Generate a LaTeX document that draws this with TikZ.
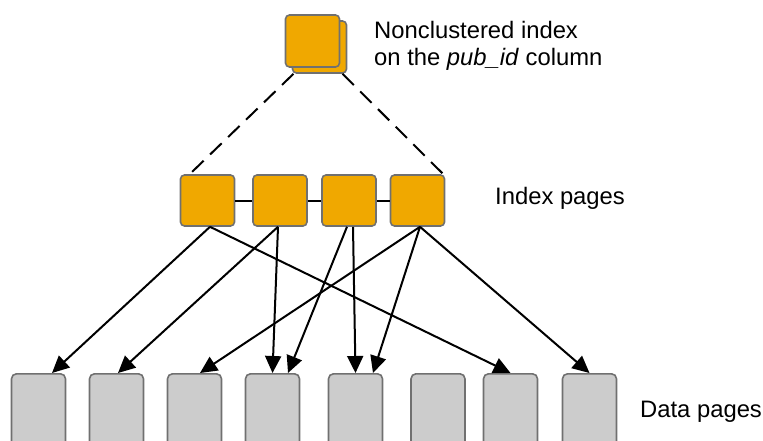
\documentclass[tikz,border=0pt]{standalone}
\usepackage{fontspec}
\setmainfont{Liberation Sans}
\usetikzlibrary{arrows.meta,calc}
\definecolor{idxfill}{RGB}{240,168,0}
\definecolor{datafill}{RGB}{204,204,204}
\definecolor{edgegray}{RGB}{112,112,112}
\begin{document}
\begin{tikzpicture}[x=1pt,y=-1pt,
  idxbox/.style={draw=edgegray,line width=1.6pt,fill=idxfill,rounded corners=4pt,minimum width=54pt,minimum height=51pt,inner sep=0pt},
  databox/.style={draw=edgegray,line width=1.6pt,fill=datafill,rounded corners=5pt,minimum width=54pt,minimum height=100pt,inner sep=0pt,anchor=north},
  link/.style={line width=2pt,black},
  ptr/.style={line width=2pt,black,-{Triangle[length=17pt,width=16pt]}},
  lbl/.style={font=\fontsize{23.8}{27}\selectfont,inner sep=0pt,anchor=west,align=left}]
\clip (0,0) rectangle (763,441);
\useasboundingbox (0,0) rectangle (763,441);
% top index symbol
\node[idxbox,minimum height=52pt] (back) at (319.5,47) {};
\node[idxbox,minimum height=52pt] (top) at (312.5,41) {};
% index pages
\node[idxbox] (i1) at (207.5,200.5) {};
\node[idxbox] (i2) at (280,200.5) {};
\node[idxbox] (i3) at (349,200.5) {};
\node[idxbox] (i4) at (417.5,200.5) {};
\draw[link] (i1.east) -- (i2.west);
\draw[link] (i2.east) -- (i3.west);
\draw[link] (i3.east) -- (i4.west);
% dashed lines
\draw[link,dash pattern=on 16pt off 9pt] ([xshift=-26pt]back.south) -- ([xshift=10pt]i1.north west);
\draw[link,dash pattern=on 16pt off 9pt] ([xshift=23pt]back.south) -- ([xshift=-2pt]i4.north east);
% data pages
\foreach \n/\x in {1/38.5,2/116.5,3/194.5,4/272.5,5/355.5,6/438,7/510.5,8/589.5}
  \node[databox] (d\n) at (\x,373) {};
% pointers
\draw[ptr] ([xshift=2.5pt]i1.south) -- ([xshift=13.5pt]d1.north);
\draw[ptr] ([xshift=2.5pt]i1.south) -- (d7.north);
\draw[ptr] ([xshift=-2pt]i2.south) -- ([xshift=1.5pt]d2.north);
\draw[ptr] ([xshift=-2pt]i2.south) -- (d4.north);
\draw[ptr] ([xshift=-2pt]i3.south) -- ([xshift=15.5pt]d4.north);
\draw[ptr] ([xshift=4pt]i3.south) -- (d5.north);
\draw[ptr] ([xshift=2.5pt]i4.south) -- ([xshift=5.5pt]d3.north);
\draw[ptr] ([xshift=2.5pt]i4.south) -- ([xshift=17.5pt]d5.north);
\draw[ptr] ([xshift=2.5pt]i4.south) -- (d8.north);
% labels
\node[lbl] (t1) at (374,46) {Nonclustered index\\on the \textit{pub\_id} column};
\node[lbl] (t2) at (495,198) {Index pages};
\node[lbl] (t3) at (640,412) {Data pages};
\end{tikzpicture}
\end{document}
